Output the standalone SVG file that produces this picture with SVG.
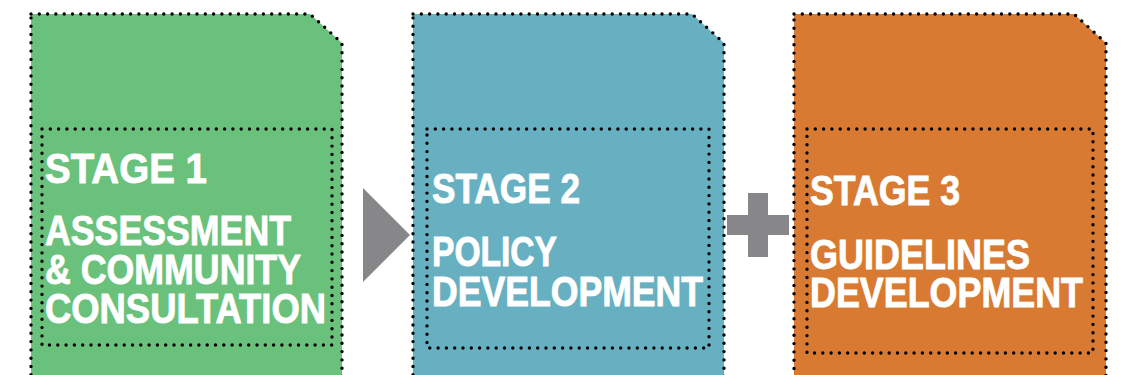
<svg xmlns="http://www.w3.org/2000/svg" width="1123" height="375" viewBox="0 0 1123 375">
  <style>
    .card { stroke: #000; stroke-width: 3.4; stroke-linecap: round; stroke-dasharray: 0 8.3; }
    .inner { fill: none; stroke: #000; stroke-width: 3.4; stroke-linecap: round; stroke-dasharray: 0 8.3; }
    .green { fill: #69c17b; }
    .blue { fill: #67b0c2; }
    .orange { fill: #d97a33; }
    .lbl { font-family: "Liberation Sans", Arial, sans-serif; font-weight: bold; font-size: 43px; fill: #fff; stroke: #fff; stroke-width: 0.9; }
    .link { fill: #87878a; }
  </style>
  <rect width="1123" height="375" fill="#fff"/>

  <g id="stage1">
    <path class="card green" d="M31,14 H310 L342,43 V382 H31 Z"/>
    <rect class="inner" x="42" y="129" width="290" height="216"/>
    <text class="lbl" x="45" y="183" textLength="162" lengthAdjust="spacingAndGlyphs">STAGE 1</text>
    <text class="lbl" x="45" y="245" textLength="246" lengthAdjust="spacingAndGlyphs">ASSESSMENT</text>
    <text class="lbl" x="45" y="284" textLength="256" lengthAdjust="spacingAndGlyphs">&amp; COMMUNITY</text>
    <text class="lbl" x="45" y="323" textLength="281" lengthAdjust="spacingAndGlyphs">CONSULTATION</text>
  </g>

  <g id="stage2">
    <path class="card blue" d="M413,14 H692 L724,43 V382 H413 Z"/>
    <rect class="inner" x="427" y="129" width="282" height="219"/>
    <text class="lbl" x="432" y="203" textLength="148" lengthAdjust="spacingAndGlyphs">STAGE 2</text>
    <text class="lbl" x="432" y="266" textLength="125" lengthAdjust="spacingAndGlyphs">POLICY</text>
    <text class="lbl" x="432" y="306" textLength="271" lengthAdjust="spacingAndGlyphs">DEVELOPMENT</text>
  </g>

  <g id="stage3">
    <path class="card orange" d="M794,14 H1074 L1106,43 V382 H794 Z"/>
    <rect class="inner" x="807" y="129" width="286" height="224"/>
    <text class="lbl" x="810" y="205" textLength="150" lengthAdjust="spacingAndGlyphs">STAGE 3</text>
    <text class="lbl" x="810" y="269" textLength="220" lengthAdjust="spacingAndGlyphs">GUIDELINES</text>
    <text class="lbl" x="810" y="307" textLength="273" lengthAdjust="spacingAndGlyphs">DEVELOPMENT</text>
  </g>

  <g id="connectors">
    <!-- arrow from stage 1 to stage 2 -->
    <polygon class="link" points="363,188 410,235 363,282"/>
    <!-- plus joining stage 2 and stage 3 -->
    <path class="link" d="M748,193 H768 V215 H789 V235 H768 V257 H748 V235 H727 V215 H748 Z"/>
  </g>
</svg>
